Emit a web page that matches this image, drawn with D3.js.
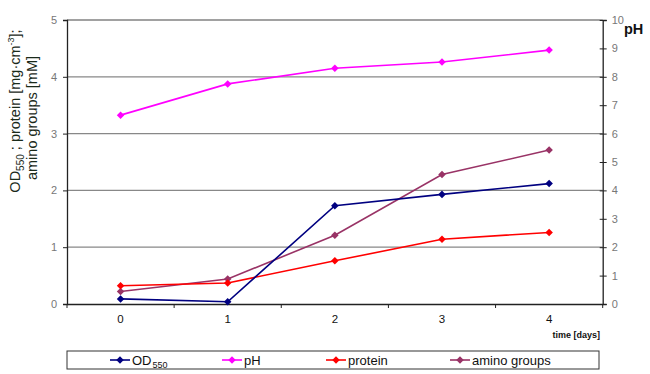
<!DOCTYPE html>
<html><head><meta charset="utf-8">
<script src="https://cdn.jsdelivr.net/npm/d3@7"></script>
<style>body{margin:0;background:#fff}svg{display:block}</style>
</head><body>
<script>
const days = ["0","1","2","3","4"];
const od550 = [0.09, 0.04, 1.73, 1.93, 2.12];
const pH = [6.65, 7.75, 8.30, 8.52, 8.94];
const protein = [0.32, 0.37, 0.76, 1.14, 1.26];
const aminoGroups = [0.22, 0.44, 1.21, 2.28, 2.71];
const leftTicks = [0,1,2,3,4,5];
const rightTicks = [0,1,2,3,4,5,6,7,8,9,10];

const W=650,H=374;
const L=67,R=602.7,T=20,B=304;
const svg=d3.select("body").append("svg").attr("width",W).attr("height",H);
const x=d3.scaleBand().domain(days).range([L,R]);
const yL=d3.scaleLinear().domain([0,5]).range([B,T]);
const yR=d3.scaleLinear().domain([0,10]).range([B,T]);
const font="Liberation Sans, Arial, sans-serif";

// gridlines
svg.append("g").selectAll("line").data([1,2,3,4,5]).join("line")
 .attr("x1",L).attr("x2",R).attr("y1",d=>yL(d)).attr("y2",d=>yL(d))
 .attr("stroke",d=>d===5?"#444":"#888").attr("stroke-width",1.2);

// left axis
const gl=svg.append("g").attr("transform",`translate(${L},0)`)
 .call(d3.axisLeft(yL).tickValues(leftTicks).tickSize(4).tickPadding(6).tickFormat(d3.format("d")));
gl.select(".domain").attr("stroke","#222").attr("stroke-width",1.3);
gl.selectAll(".tick line").attr("stroke","#222");
gl.selectAll("text").attr("font-family",font).attr("font-size",11).attr("fill","#777");

// right axis
const gr=svg.append("g").attr("transform",`translate(${R},0)`)
 .call(d3.axisRight(yR).tickValues(rightTicks).tickSize(4).tickPadding(5).tickFormat(d3.format("d")));
gr.select(".domain").attr("stroke","#222").attr("stroke-width",1.3);
gr.selectAll(".tick line").attr("x1",-3).attr("stroke","#222");
gr.selectAll("text").attr("font-family",font).attr("font-size",11).attr("fill","#777");

// bottom axis
const gb=svg.append("g").attr("transform",`translate(0,${B})`)
 .call(d3.axisBottom(x).tickSize(0).tickPadding(11));
gb.select(".domain").attr("stroke","#222").attr("stroke-width",1.3);
gb.selectAll("text").attr("font-family",font).attr("font-size",11.5).attr("fill","#111");
const bounds=days.map(d=>x(d)).concat([R]);
svg.append("g").selectAll("line").data(bounds).join("line")
 .attr("x1",d=>d).attr("x2",d=>d).attr("y1",B).attr("y2",B+4).attr("stroke","#222");

const series=[
 {name:"OD550",vals:od550,color:"#000080",y:yL},
 {name:"pH",vals:pH,color:"#FF00FF",y:yR},
 {name:"protein",vals:protein,color:"#FF0000",y:yL},
 {name:"amino groups",vals:aminoGroups,color:"#993366",y:yL}
];
const cx=d=>x(d)+x.bandwidth()/2;
const diamond=d3.symbol().type(d3.symbolDiamond2).size(36);
[series[1],series[3],series[2],series[0]].forEach(s=>{
 const line=d3.line().x((v,i)=>cx(days[i])).y(v=>s.y(v));
 svg.append("path").datum(s.vals).attr("d",line).attr("fill","none")
  .attr("stroke",s.color).attr("stroke-width",1.6);
 svg.append("g").selectAll("path").data(s.vals).join("path")
  .attr("transform",(v,i)=>`translate(${cx(days[i])},${s.y(v)})`)
  .attr("d",diamond).attr("fill",s.color);
});

// axis titles
const yt=svg.append("text").attr("transform","translate(20,111) rotate(-90)")
 .attr("text-anchor","middle").attr("font-family",font).attr("font-size",14.5).attr("fill","#1a2a1a");
yt.append("tspan").attr("x",0).attr("dy",0).text("OD");
yt.append("tspan").attr("font-size",10).attr("dy",4).text("550");
yt.append("tspan").attr("dy",-4).text(" ; protein [mg·cm");
yt.append("tspan").attr("font-size",9).attr("dy",-6).text("-3");
yt.append("tspan").attr("dy",6).text("];");
svg.append("text").attr("transform","translate(37,118) rotate(-90)")
 .attr("text-anchor","middle").attr("font-family",font).attr("font-size",14.5).attr("fill","#1a2a1a")
 .text("amino groups [mM]");
svg.append("text").attr("x",624).attr("y",34).attr("font-family",font).attr("font-size",14.5)
 .attr("font-weight","bold").attr("fill","#111").text("pH");
svg.append("text").attr("x",600).attr("y",338).attr("text-anchor","end").attr("font-family",font)
 .attr("font-size",9).attr("font-weight","bold").attr("fill","#111").text("time [days]");

// legend
svg.append("rect").attr("x",67).attr("y",351).attr("width",532).attr("height",18)
 .attr("fill","#fff").attr("stroke","#333").attr("stroke-width",1);
const lx=[110,222,326,450];
series.forEach((s,i)=>{
 const g=svg.append("g").attr("transform",`translate(${lx[i]},360)`);
 g.append("line").attr("x1",0).attr("x2",20).attr("stroke",s.color).attr("stroke-width",1.6);
 g.append("path").attr("transform","translate(10,0)").attr("d",diamond).attr("fill",s.color);
 const t=g.append("text").attr("x",22).attr("y",5).attr("font-family",font).attr("font-size",13).attr("fill","#111");
 if(s.name==="OD550"){t.append("tspan").text("OD");t.append("tspan").attr("font-size",9).attr("dy",3).attr("dx",1).text("550");}
 else t.text(s.name);
});
</script>
</body></html>
